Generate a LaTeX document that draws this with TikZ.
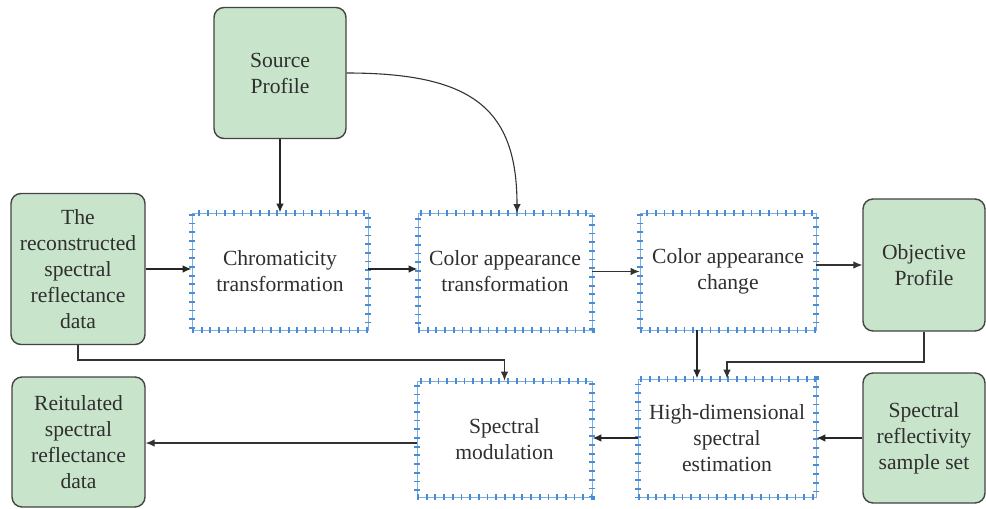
\documentclass[tikz,border=0pt]{standalone}
\usepackage{fontspec}
\setmainfont{Liberation Serif}
\usetikzlibrary{arrows.meta}
\definecolor{gfill}{HTML}{C8E4CB}
\definecolor{gdraw}{HTML}{444444}
\definecolor{hblue}{RGB}{70,140,215}
\definecolor{txt}{HTML}{2F2F2F}
\tikzset{
  base/.style={inner sep=0pt, align=center, text=txt,
    font=\fontsize{10.8pt}{13pt}\selectfont},
  profile/.style={base, rectangle, rounded corners=5pt, fill=gfill, draw=gdraw,
    line width=0.7pt},
  proc/.style={base, rectangle, draw=hblue!70, line width=0.45pt,
    postaction={draw=hblue, line width=2.8pt, dash pattern=on 0.9pt off 3.45pt}},
  arr/.style={draw=black!85, line width=0.75pt, -{Latex[length=4.5pt,width=3.8pt]}},
  thinarr/.style={draw=black!80, line width=0.55pt, -{Latex[length=4.5pt,width=3.8pt]}},
}
\begin{document}
\begin{tikzpicture}[x=0.5pt,y=-0.5pt]
\useasboundingbox (0,0) rectangle (986,509);
% green profile boxes
\node[profile, minimum width=66pt, minimum height=65.5pt] (src) at (280,73) {Source\\Profile};
\node[profile, minimum width=67pt, minimum height=75.5pt] (rec) at (78,269) {The\\reconstructed\\spectral\\reflectance\\data};
\node[profile, minimum width=61pt, minimum height=66pt] (obj) at (924,265) {Objective\\Profile};
\node[profile, minimum width=66.5pt, minimum height=65pt] (reit) at (78.5,442) {Reitulated\\spectral\\reflectance\\data};
\node[profile, minimum width=61pt, minimum height=65pt] (sss) at (924,438) {Spectral\\reflectivity\\sample set};
% hatched process boxes
\node[proc, minimum width=88pt, minimum height=58.5pt] (chr) at (280,271.5) {Chromaticity\\transformation};
\node[proc, minimum width=87pt, minimum height=58.5pt] (cat) at (505,271.5) {Color appearance\\transformation};
\node[proc, minimum width=88pt, minimum height=58.5pt] (cac) at (728,271.5) {Color appearance\\change};
\node[proc, minimum width=87.5pt, minimum height=58pt] (sm) at (504.5,439) {Spectral\\modulation};
\node[proc, minimum width=89pt, minimum height=59pt] (hd) at (727,438) {High-dimensional\\spectral\\estimation};
% helper coordinates
\coordinate (catin) at (517,213);
\coordinate (cx) at (697,0);
\coordinate (ry) at (0,360);
\coordinate (oy) at (0,362);
% connectors
\draw[arr] (src.south) -- (chr.north);
\draw[thinarr] (src.east) .. controls +(125,0) and +(0,-105) .. (catin);
\draw[arr] (rec.east) -- (rec.east -| chr.west);
\draw[arr] (chr.east |- 0,269) -- (cat.west |- 0,269);
\draw[thinarr] (cat.east) -- (cac.west);
\draw[thinarr] (cac.east |- obj.west) -- (obj.west);
\draw[arr] (cac.south -| cx) -- (hd.north -| cx);
\draw[thinarr] (obj.south) -- (obj.south |- oy) -| (hd.north);
\draw[thinarr] (rec.south) -- (rec.south |- ry) -| (sm.north);
\draw[arr] (hd.west) -- (hd.west -| sm.east);
\draw[arr] (sss.west) -- (sss.west -| hd.east);
\draw[thinarr] (sm.west |- 0,443) -- (reit.east |- 0,443);
\end{tikzpicture}
\end{document}
